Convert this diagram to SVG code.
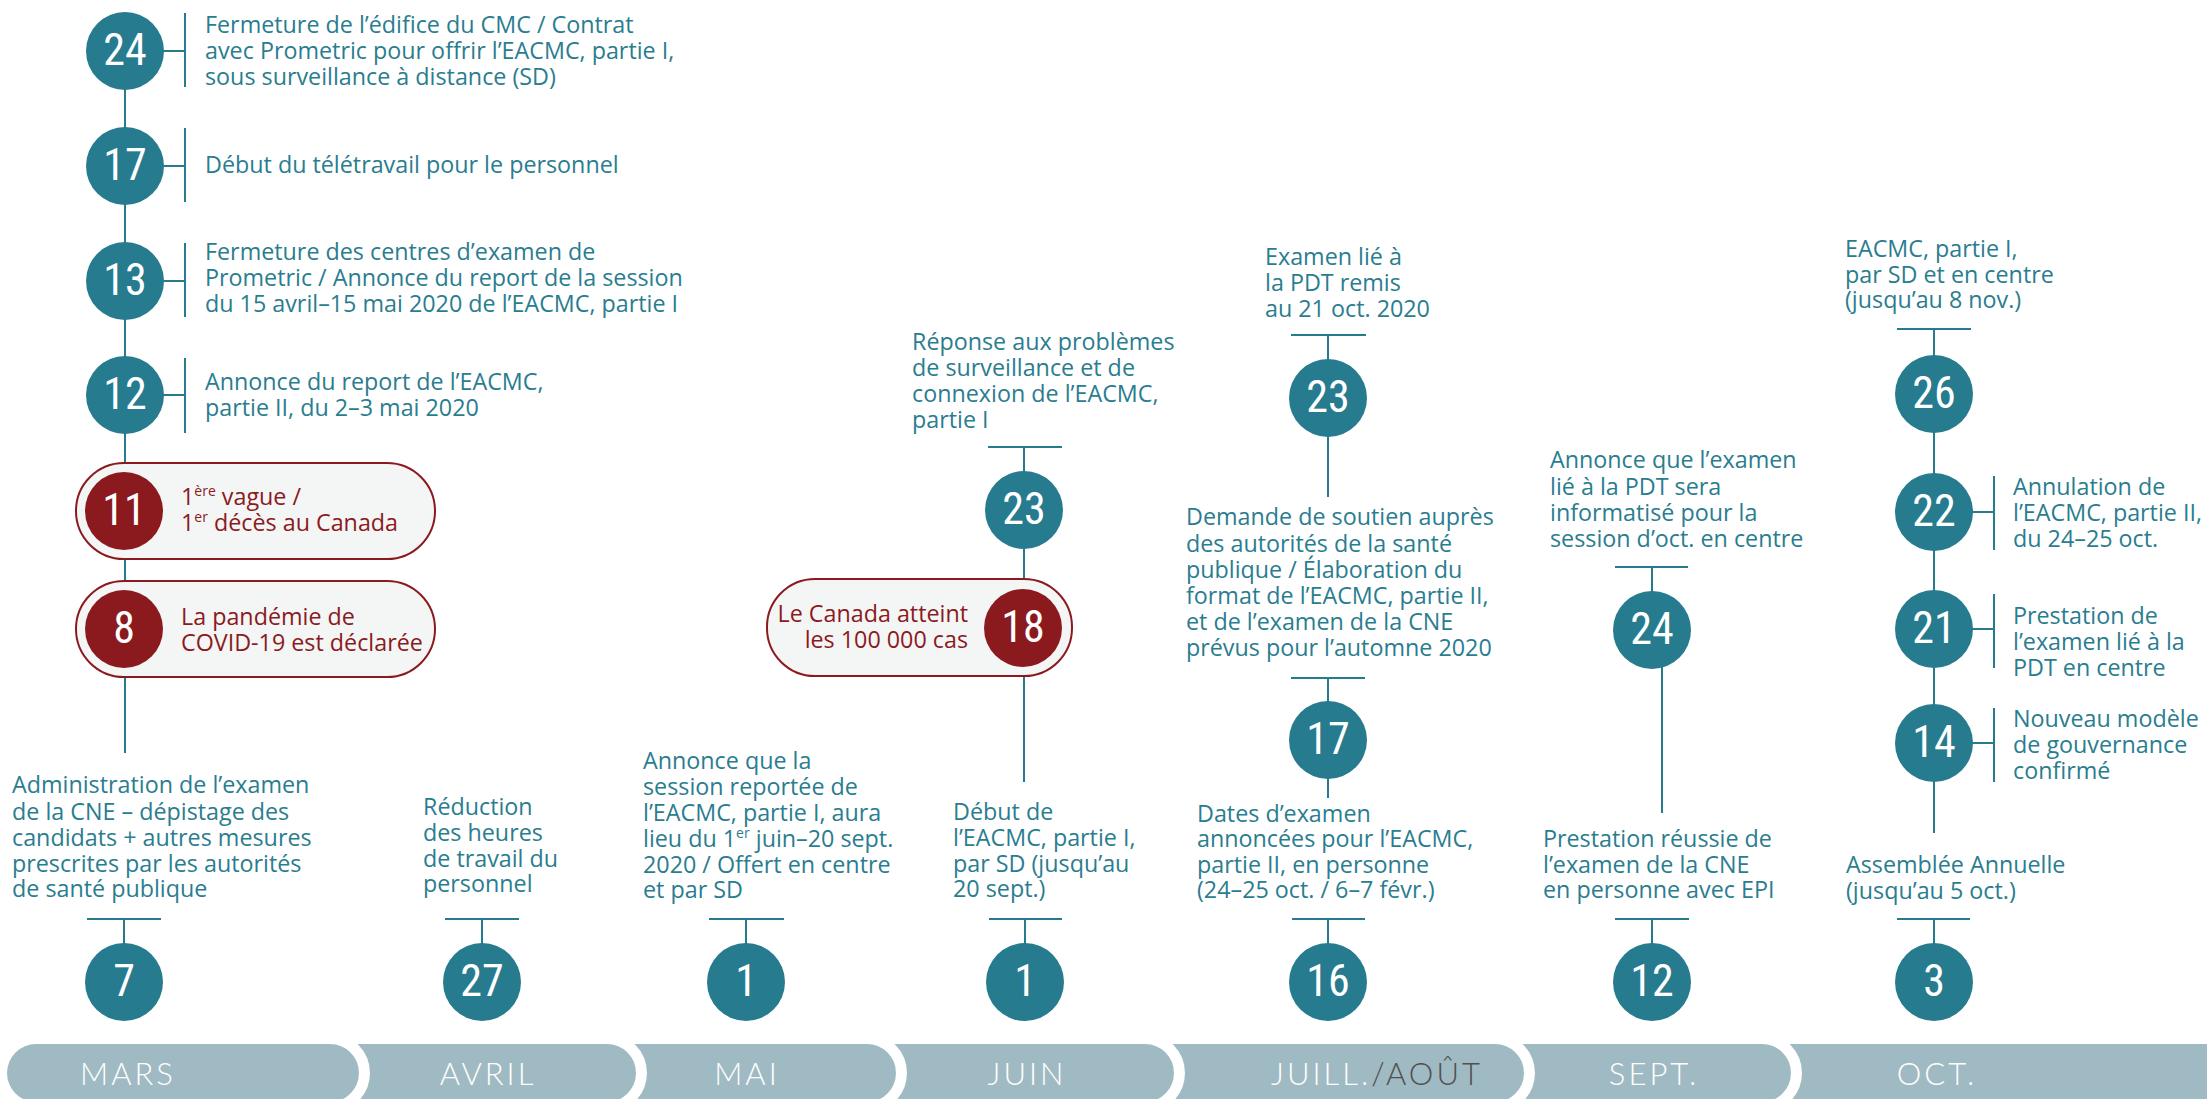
<svg xmlns="http://www.w3.org/2000/svg" width="2207" height="1099" viewBox="0 0 2207 1099">
<style>
.t{font-family:"Open Sans","Liberation Sans",sans-serif;font-size:23.3px;fill:#2a7d8f}
.tr{font-family:"Open Sans","Liberation Sans",sans-serif;font-size:23.3px;fill:#8b1a1e}
.n{font-family:"Liberation Sans Narrow","Roboto Condensed","Roboto",sans-serif;font-size:44px;fill:#fff;text-anchor:middle}
.c{fill:#267b8e}
.r{fill:#8b1a1e}
.ln{stroke:#267b8e;stroke-width:2;fill:none}
.pill{fill:#f4f6f5;stroke:#8b1a1e;stroke-width:2}
.m{font-family:"Lato","Open Sans",sans-serif;font-weight:300;font-size:31px;fill:#fff;text-anchor:middle;letter-spacing:3px}
.ring{stroke:#fff;stroke-width:11;fill:none}
.sup{font-size:14px}
</style>
<rect width="2207" height="1099" fill="#fff"/>
<g id="month-bar">
<path d="M36,1044 H2207 V1102 H36 A29,29 0 0 1 36,1044 Z" fill="#9fbac2"/>
<path class="ring" d="M330,1038.5 A34.5,34.5 0 0 1 330,1107.5"/>
<path class="ring" d="M607,1038.5 A34.5,34.5 0 0 1 607,1107.5"/>
<path class="ring" d="M867,1038.5 A34.5,34.5 0 0 1 867,1107.5"/>
<path class="ring" d="M1145,1038.5 A34.5,34.5 0 0 1 1145,1107.5"/>
<path class="ring" d="M1495,1038.5 A34.5,34.5 0 0 1 1495,1107.5"/>
<path class="ring" d="M1762,1038.5 A34.5,34.5 0 0 1 1762,1107.5"/>
<text class="m" x="128" y="1085">MARS</text>
<text class="m" x="488" y="1085">AVRIL</text>
<text class="m" x="747" y="1085">MAI</text>
<text class="m" x="1027" y="1085">JUIN</text>
<text class="m" x="1377" y="1085">JUILL.<tspan fill="#505050">/AOÛT</tspan></text>
<text class="m" x="1654" y="1085">SEPT.</text>
<text class="m" x="1937" y="1085">OCT.</text>
</g>
<g id="connectors">
<path class="ln" d="M125,51 V753"/>
<path class="ln" d="M185,13 V87 M125,51 H185"/>
<path class="ln" d="M185,128 V202 M125,166 H185"/>
<path class="ln" d="M185,243 V317 M125,281 H185"/>
<path class="ln" d="M185,358 V433 M125,395 H185"/>
<path class="ln" d="M87,919 H161 M124,919 V982"/>
<path class="ln" d="M445,919 H519 M482,919 V982"/>
<path class="ln" d="M709,919 H784 M746,919 V982"/>
<path class="ln" d="M988,447 H1062 M1024,447 V782"/>
<path class="ln" d="M989,919 H1062 M1025,919 V982"/>
<path class="ln" d="M1291,335 H1366 M1328,335 V497"/>
<path class="ln" d="M1291,678 H1365 M1328,678 V798"/>
<path class="ln" d="M1292,919 H1365 M1328,919 V982"/>
<path class="ln" d="M1615,567 H1688 M1652,567 V630 M1662,640 V813"/>
<path class="ln" d="M1615,919 H1689 M1652,919 V982"/>
<path class="ln" d="M1897,329 H1971 M1934,329 V833"/>
<path class="ln" d="M1994,476 V550 M1934,512 H1994"/>
<path class="ln" d="M1994,594 V668 M1934,629 H1994"/>
<path class="ln" d="M1994,708 V782 M1934,743 H1994"/>
<path class="ln" d="M1897,919 H1970 M1934,919 V982"/>
</g>
<g id="mars-24"><circle class="c" cx="125" cy="51" r="39"/><text class="n" x="125" y="65">24</text>
<text class="t"><tspan x="205" y="33">Fermeture de l’édifice du CMC / Contrat</tspan><tspan x="205" y="59">avec Prometric pour offrir l’EACMC, partie I,</tspan><tspan x="205" y="85">sous surveillance à distance (SD)</tspan></text></g>
<g id="mars-17"><circle class="c" cx="125" cy="166" r="39"/><text class="n" x="125" y="180">17</text>
<text class="t" x="205" y="173">Début du télétravail pour le personnel</text></g>
<g id="mars-13"><circle class="c" cx="125" cy="281" r="39"/><text class="n" x="125" y="295">13</text>
<text class="t"><tspan x="205" y="260">Fermeture des centres d’examen de</tspan><tspan x="205" y="286">Prometric / Annonce du report de la session</tspan><tspan x="205" y="312">du 15 avril–15 mai 2020 de l’EACMC, partie I</tspan></text></g>
<g id="mars-12"><circle class="c" cx="125" cy="395" r="39"/><text class="n" x="125" y="409">12</text>
<text class="t"><tspan x="205" y="390">Annonce du report de l’EACMC,</tspan><tspan x="205" y="416">partie II, du 2–3 mai 2020</tspan></text></g>
<g id="mars-11"><rect class="pill" x="76" y="463" width="359" height="96" rx="48"/><circle class="r" cx="124" cy="511" r="39"/><text class="n" x="124" y="525">11</text>
<text class="tr"><tspan x="181" y="505">1<tspan class="sup" dy="-9">ère</tspan><tspan dy="9"> vague /</tspan></tspan><tspan x="181" y="531">1<tspan class="sup" dy="-9">er</tspan><tspan dy="9"> décès au Canada</tspan></tspan></text></g>
<g id="mars-8"><rect class="pill" x="76" y="581" width="359" height="96" rx="48"/><circle class="r" cx="124" cy="629" r="39"/><text class="n" x="124" y="643">8</text>
<text class="tr"><tspan x="181" y="625">La pandémie de</tspan><tspan x="181" y="651">COVID-19 est déclarée</tspan></text></g>
<g id="mars-7"><circle class="c" cx="124" cy="982" r="39"/><text class="n" x="124" y="996">7</text>
<text class="t"><tspan x="12" y="793">Administration de l’examen</tspan><tspan x="12" y="820">de la CNE – dépistage des</tspan><tspan x="12" y="846">candidats + autres mesures</tspan><tspan x="12" y="872">prescrites par les autorités</tspan><tspan x="12" y="897">de santé publique</tspan></text></g>
<g id="avril-27"><circle class="c" cx="482" cy="982" r="39"/><text class="n" x="482" y="996">27</text>
<text class="t"><tspan x="423" y="815">Réduction</tspan><tspan x="423" y="841">des heures</tspan><tspan x="423" y="867">de travail du</tspan><tspan x="423" y="892">personnel</tspan></text></g>
<g id="mai-1"><circle class="c" cx="746" cy="982" r="39"/><text class="n" x="746" y="996">1</text>
<text class="t"><tspan x="643" y="769">Annonce que la</tspan><tspan x="643" y="795">session reportée de</tspan><tspan x="643" y="821">l’EACMC, partie I, aura</tspan><tspan x="643" y="847">lieu du 1<tspan class="sup" dy="-9">er</tspan><tspan dy="9"> juin–20 sept.</tspan></tspan><tspan x="643" y="873">2020 / Offert en centre</tspan><tspan x="643" y="898">et par SD</tspan></text></g>
<g id="juin-23"><circle class="c" cx="1024" cy="510" r="39"/><text class="n" x="1024" y="524">23</text>
<text class="t"><tspan x="912" y="350">Réponse aux problèmes</tspan><tspan x="912" y="376">de surveillance et de</tspan><tspan x="912" y="402">connexion de l’EACMC,</tspan><tspan x="912" y="428">partie I</tspan></text></g>
<g id="juin-18"><rect class="pill" x="767" y="579" width="305" height="97" rx="48"/><circle class="r" cx="1023" cy="628" r="39"/><text class="n" x="1023" y="642">18</text>
<text class="tr" text-anchor="end"><tspan x="968" y="622">Le Canada atteint</tspan><tspan x="968" y="648">les 100 000 cas</tspan></text></g>
<g id="juin-1"><circle class="c" cx="1025" cy="982" r="39"/><text class="n" x="1025" y="996">1</text>
<text class="t"><tspan x="953" y="820">Début de</tspan><tspan x="953" y="846">l’EACMC, partie I,</tspan><tspan x="953" y="872">par SD (jusqu’au</tspan><tspan x="953" y="897">20 sept.)</tspan></text></g>
<g id="juillet-23"><circle class="c" cx="1328" cy="398" r="39"/><text class="n" x="1328" y="412">23</text>
<text class="t"><tspan x="1265" y="265">Examen lié à</tspan><tspan x="1265" y="291">la PDT remis</tspan><tspan x="1265" y="317">au 21 oct. 2020</tspan></text></g>
<g id="juillet-17"><circle class="c" cx="1328" cy="740" r="39"/><text class="n" x="1328" y="754">17</text>
<text class="t"><tspan x="1186" y="525">Demande de soutien auprès</tspan><tspan x="1186" y="552">des autorités de la santé</tspan><tspan x="1186" y="578">publique / Élaboration du</tspan><tspan x="1186" y="604">format de l’EACMC, partie II,</tspan><tspan x="1186" y="630">et de l’examen de la CNE</tspan><tspan x="1186" y="656">prévus pour l’automne 2020</tspan></text></g>
<g id="juillet-16"><circle class="c" cx="1328" cy="982" r="39"/><text class="n" x="1328" y="996">16</text>
<text class="t"><tspan x="1197" y="822">Dates d’examen</tspan><tspan x="1197" y="847">annoncées pour l’EACMC,</tspan><tspan x="1197" y="873">partie II, en personne</tspan><tspan x="1197" y="898">(24–25 oct. / 6–7 févr.)</tspan></text></g>
<g id="sept-24"><circle class="c" cx="1652" cy="630" r="39"/><text class="n" x="1652" y="644">24</text>
<text class="t"><tspan x="1550" y="468">Annonce que l’examen</tspan><tspan x="1550" y="495">lié à la PDT sera</tspan><tspan x="1550" y="521">informatisé pour la</tspan><tspan x="1550" y="547">session d’oct. en centre</tspan></text></g>
<g id="sept-12"><circle class="c" cx="1652" cy="982" r="39"/><text class="n" x="1652" y="996">12</text>
<text class="t"><tspan x="1543" y="847">Prestation réussie de</tspan><tspan x="1543" y="873">l’examen de la CNE</tspan><tspan x="1543" y="898">en personne avec EPI</tspan></text></g>
<g id="oct-26"><circle class="c" cx="1934" cy="394" r="39"/><text class="n" x="1934" y="408">26</text>
<text class="t"><tspan x="1845" y="257">EACMC, partie I,</tspan><tspan x="1845" y="283">par SD et en centre</tspan><tspan x="1845" y="308">(jusqu’au 8 nov.)</tspan></text></g>
<g id="oct-22"><circle class="c" cx="1934" cy="512" r="39"/><text class="n" x="1934" y="526">22</text>
<text class="t"><tspan x="2013" y="495">Annulation de</tspan><tspan x="2013" y="521">l’EACMC, partie II,</tspan><tspan x="2013" y="547">du 24–25 oct.</tspan></text></g>
<g id="oct-21"><circle class="c" cx="1934" cy="629" r="39"/><text class="n" x="1934" y="643">21</text>
<text class="t"><tspan x="2013" y="624">Prestation de</tspan><tspan x="2013" y="650">l’examen lié à la</tspan><tspan x="2013" y="676">PDT en centre</tspan></text></g>
<g id="oct-14"><circle class="c" cx="1934" cy="743" r="39"/><text class="n" x="1934" y="757">14</text>
<text class="t"><tspan x="2013" y="727">Nouveau modèle</tspan><tspan x="2013" y="753">de gouvernance</tspan><tspan x="2013" y="779">confirmé</tspan></text></g>
<g id="oct-3"><circle class="c" cx="1934" cy="982" r="39"/><text class="n" x="1934" y="996">3</text>
<text class="t"><tspan x="1846" y="873">Assemblée Annuelle</tspan><tspan x="1846" y="899">(jusqu’au 5 oct.)</tspan></text></g>
</svg>
